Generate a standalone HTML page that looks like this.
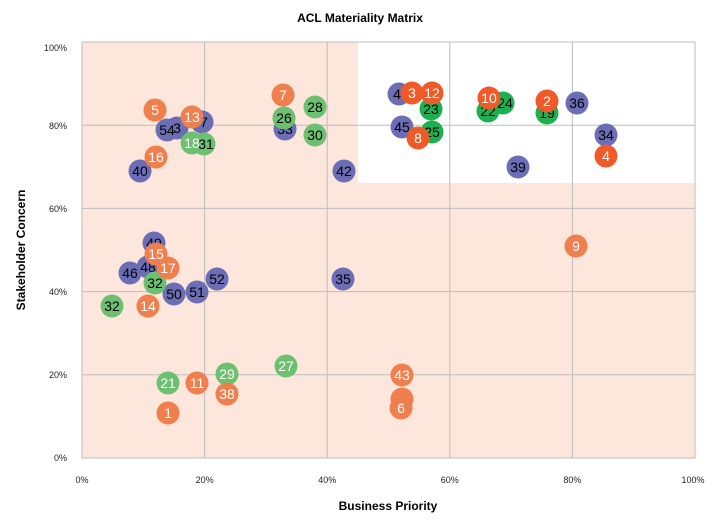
<!DOCTYPE html>
<html><head><meta charset="utf-8"><style>
body{margin:0;background:#fff;}
svg{display:block;font-family:"Liberation Sans",Arial,sans-serif;}
</style></head><body>
<svg width="715" height="529" viewBox="0 0 715 529" xmlns="http://www.w3.org/2000/svg">
<rect x="0" y="0" width="715" height="529" fill="#fff"/>
<text x="360" y="22" font-size="12" font-weight="bold" text-anchor="middle">ACL Materiality Matrix</text>
<rect x="82" y="42" width="613" height="416" fill="#fde6dc"/>
<rect x="358" y="42" width="337" height="141" fill="#fff"/>
<g stroke="#bdbdbd" stroke-width="1" fill="none">
<rect x="82" y="42" width="613" height="416"/>
<line x1="204.6" y1="42" x2="204.6" y2="458"/>
<line x1="327.2" y1="42" x2="327.2" y2="458"/>
<line x1="449.8" y1="42" x2="449.8" y2="458"/>
<line x1="572.4" y1="42" x2="572.4" y2="458"/>
<line x1="82" y1="125.2" x2="695" y2="125.2"/>
<line x1="82" y1="208.4" x2="695" y2="208.4"/>
<line x1="82" y1="291.6" x2="695" y2="291.6"/>
<line x1="82" y1="374.8" x2="695" y2="374.8"/>
</g>
<g font-size="9" fill="#222" text-anchor="end">
<text x="67" y="51">100%</text><text x="67" y="129">80%</text><text x="67" y="212">60%</text>
<text x="67" y="295">40%</text><text x="67" y="378">20%</text><text x="67" y="461">0%</text>
</g>
<g font-size="9" fill="#222" text-anchor="middle">
<text x="82" y="483">0%</text><text x="204.6" y="483">20%</text><text x="327.2" y="483">40%</text>
<text x="449.8" y="483">60%</text><text x="572.4" y="483">80%</text><text x="693" y="483">100%</text>
</g>
<text x="388" y="510" font-size="12" font-weight="bold" text-anchor="middle">Business Priority</text>
<text transform="translate(25,250) rotate(-90)" font-size="12" font-weight="bold" text-anchor="middle">Stakeholder Concern</text>
<g font-size="14" text-anchor="middle">
<!-- B blue, O light orange, R dark orange, G light green, D dark green -->
<g fill="#6b6db5"><circle cx="140" cy="171" r="11.5"/><circle cx="177" cy="128" r="11.5"/><circle cx="167" cy="130" r="11.5"/><circle cx="202" cy="122" r="11.5"/><circle cx="285" cy="129" r="11.5"/><circle cx="344" cy="171" r="11.5"/><circle cx="399" cy="94" r="11.5"/><circle cx="402" cy="127" r="11.5"/><circle cx="577" cy="103" r="11.5"/><circle cx="606" cy="135" r="11.5"/><circle cx="518" cy="167" r="11.5"/><circle cx="154" cy="243" r="11.5"/><circle cx="130" cy="273" r="11.5"/><circle cx="148" cy="267" r="11.5"/><circle cx="217" cy="279" r="11.5"/><circle cx="174" cy="294" r="11.5"/><circle cx="197" cy="292" r="11.5"/><circle cx="343" cy="279" r="11.5"/></g>
<g fill="#000">
<text x="140" y="176">40</text><text x="177" y="133">3</text><text x="167" y="135">54</text><text x="204" y="127">7</text><text x="285" y="134">33</text><text x="344" y="176">42</text><text x="397" y="99">4</text><text x="402" y="132">45</text><text x="577" y="108">36</text><text x="606" y="140">34</text><text x="518" y="172">39</text><text x="154" y="248">49</text><text x="130" y="278">46</text><text x="148" y="272">48</text><text x="217" y="284">52</text><text x="174" y="299">50</text><text x="197" y="297">51</text><text x="343" y="284">35</text>
</g>
<g fill="#6cc070"><circle cx="204" cy="144" r="11.5"/><circle cx="192" cy="143" r="11.5"/><circle cx="284" cy="118" r="11.5"/><circle cx="315" cy="107" r="11.5"/><circle cx="315" cy="135" r="11.5"/><circle cx="155" cy="283" r="11.5"/><circle cx="112" cy="306" r="11.5"/><circle cx="286" cy="366" r="11.5"/><circle cx="227" cy="374" r="11.5"/><circle cx="168" cy="383" r="11.5"/></g>
<g fill="#000"><text x="206" y="149">31</text><text x="284" y="123">26</text><text x="315" y="112">28</text><text x="315" y="140">30</text><text x="155" y="288">32</text><text x="112" y="311">32</text></g>
<g fill="#fff"><text x="192" y="148">18</text><text x="286" y="371">27</text><text x="227" y="379">29</text><text x="168" y="388">21</text></g>
<g fill="#1db050"><circle cx="431" cy="109" r="11.5"/><circle cx="432" cy="132" r="11.5"/><circle cx="488" cy="111" r="11.5"/><circle cx="503" cy="103" r="11.5"/><circle cx="547" cy="113" r="11.5"/></g>
<g fill="#000"><text x="431" y="114">23</text><text x="432" y="137">25</text><text x="488" y="116">22</text><text x="505" y="108">24</text><text x="547" y="118">19</text></g>
<g fill="#f07f4e"><circle cx="155" cy="110" r="11.5"/><circle cx="192" cy="117" r="11.5"/><circle cx="156" cy="157" r="11.5"/><circle cx="283" cy="95" r="11.5"/><circle cx="156" cy="254" r="11.5"/><circle cx="168" cy="268" r="11.5"/><circle cx="148" cy="306" r="11.5"/><circle cx="197" cy="383" r="11.5"/><circle cx="227" cy="394" r="11.5"/><circle cx="168" cy="413" r="11.5"/><circle cx="576" cy="246" r="11.5"/><circle cx="402" cy="375" r="11.5"/><circle cx="402" cy="399" r="11.5"/><circle cx="401" cy="408" r="11.5"/></g>
<g fill="#fff"><text x="155" y="115">5</text><text x="192" y="122">13</text><text x="156" y="162">16</text><text x="283" y="100">7</text><text x="156" y="259">15</text><text x="168" y="273">17</text><text x="148" y="311">14</text><text x="197" y="388">11</text><text x="227" y="399">38</text><text x="168" y="418">1</text><text x="576" y="251">9</text><text x="402" y="380">43</text><text x="401" y="413">6</text></g>
<g fill="#f05a28"><circle cx="412" cy="93" r="11.5"/><circle cx="432" cy="93" r="11.5"/><circle cx="418" cy="138" r="11.5"/><circle cx="489" cy="98" r="11.5"/><circle cx="547" cy="101" r="11.5"/><circle cx="606" cy="156" r="11.5"/></g>
<g fill="#fff"><text x="412" y="98">3</text><text x="432" y="98">12</text><text x="418" y="143">8</text><text x="489" y="103">10</text><text x="547" y="106">2</text><text x="606" y="161">4</text></g>
</g>
</svg>
</body></html>
